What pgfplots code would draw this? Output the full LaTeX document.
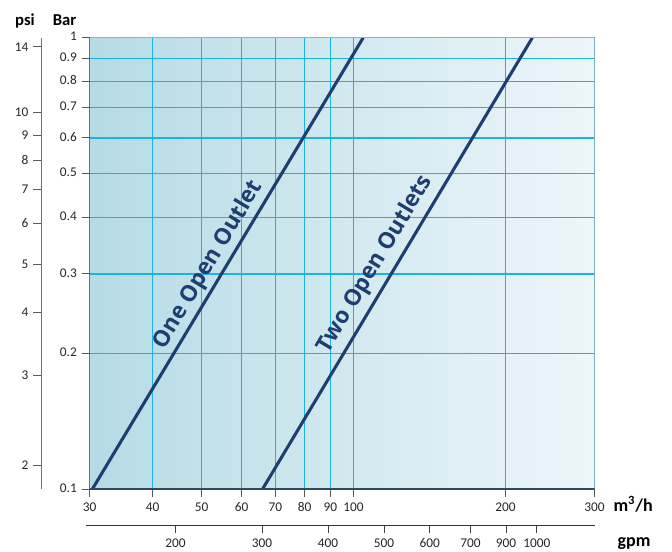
\documentclass[border=0pt]{standalone}
\usepackage{pgfplots}
\pgfplotsset{compat=1.18}
\usepackage{fontspec}
\setmainfont{Carlito}
\newfontfamily\opensans{Open Sans}
\definecolor{gridblue}{RGB}{26,178,234}
\definecolor{bgleft}{RGB}{182,219,229}
\definecolor{bgright}{RGB}{237,246,250}
\definecolor{navy}{RGB}{31,62,112}
\definecolor{spine}{RGB}{45,75,92}
\definecolor{frame}{RGB}{170,170,170}
\begin{document}
\begin{tikzpicture}
% main axis (m3/h vs Bar)
\begin{axis}[
  at={(67.125pt,47.03pt)}, anchor=south west,
  scale only axis, width=378.75pt, height=338.7pt,
  xmode=log, ymode=log, log basis x=10, log basis y=10,
  xmin=30, xmax=300, ymin=0.1, ymax=1,
  xtick={30,40,50,60,70,80,90,100,200,300},
  xticklabels={30,40,50,60,70,80,90,100,200,300},
  ytick={0.1,0.2,0.3,0.4,0.5,0.6,0.7,0.8,0.9,1},
  yticklabels={0.1,0.2,0.3,0.4,0.5,0.6,0.7,0.8,0.9,1},
  minor xtick={}, minor ytick={},
  tick align=outside, tick pos=left,
  major tick length=6pt,
  tick style={color=black!65, line width=0.6pt},
  grid=major, grid style={color=gridblue, line width=1.1pt},
  major grid style={color=gridblue, line width=1.1pt},
  axis line style={draw=none},
  axis background/.style={shade, left color=bgleft, right color=bgright},
  typeset ticklabels with strut,
  xticklabel style={yshift=1.5pt},
  every tick label/.append style={font=\fontsize{10}{12}\selectfont, text=black!85},
]
\addplot[navy, line width=2.3pt] coordinates {(30.38,0.1) (104.5,1.0)};
\addplot[navy, line width=2.3pt] coordinates {(66.0,0.1) (226.0,1.0)};
\draw[frame, line width=1.2pt] (rel axis cs:0,1) -- (rel axis cs:1,1) -- (rel axis cs:1,0);
\draw[spine, line width=1.3pt] (rel axis cs:0,1) -- (rel axis cs:0,0) -- (rel axis cs:1,0);
\node[rotate=59, text=navy, font=\opensans\bfseries\fontsize{17}{20}\selectfont] at (axis cs:51.6,0.314) {One Open Outlet};
\node[rotate=59, text=navy, font=\opensans\bfseries\fontsize{17}{20}\selectfont] at (axis cs:110.5,0.315) {Two Open Outlets};
\end{axis}
% psi axis
\begin{axis}[
  at={(31.3pt,47.03pt)}, anchor=south west,
  scale only axis, width=20pt, height=338.7pt,
  ymode=log, ymin=0.1, ymax=1, xmin=0, xmax=1,
  axis x line=none, axis y line=left,
  axis line style={-, color=black!55, line width=1pt},
  ytick={0.1128,0.1785,0.2461,0.3155,0.3882,0.4617,0.5360,0.6088,0.6835,0.955},
  yticklabels={2,3,4,5,6,7,8,9,10,14},
  minor ytick={},
  tick align=outside, major tick length=6.5pt,
  tick style={color=black!65, line width=0.6pt},
  every tick label/.append style={font=\fontsize{10}{12}\selectfont, text=black!85},
]
\addplot[draw=none] coordinates {(0.5,0.5)};
\end{axis}
% gpm axis
\begin{axis}[
  at={(64.5pt,19.7pt)}, anchor=south west,
  scale only axis, width=381.4pt, height=10pt,
  xmode=log, xmin=29.6, xmax=300, ymin=0, ymax=1,
  axis y line=none, axis x line=bottom,
  axis line style={-, color=black!80, line width=0.8pt},
  xtick={44.5,66.0,89.1,115.0,141.7,170.6,200.4,230.6},
  xticklabels={200,300,400,500,600,700,900,1000},
  minor xtick={},
  tick align=outside, major tick length=5.7pt,
  tick style={color=black!75, line width=0.6pt},
  typeset ticklabels with strut,
  xticklabel style={yshift=1.5pt},
  every tick label/.append style={font=\fontsize{10}{12}\selectfont, text=black!85},
]
\addplot[draw=none] coordinates {(100,0.5)};
\end{axis}
\node[anchor=base, font=\bfseries\fontsize{12.5}{14}\selectfont] at (18.75pt,395pt) {psi};
\node[anchor=base, font=\bfseries\fontsize{12.5}{14}\selectfont] at (48.4pt,395pt) {Bar};
\node[anchor=base west, inner sep=0pt, font=\bfseries\fontsize{13.5}{15}\selectfont] at (460pt,30.2pt) {m\textsuperscript{3}/h};
\node[anchor=base, inner sep=0pt, font=\bfseries\fontsize{13.5}{15}\selectfont] at (475.5pt,4pt) {gpm};
\pgfresetboundingbox
\path[use as bounding box] (0,0) rectangle (504pt,414pt);
\end{tikzpicture}
\end{document}
